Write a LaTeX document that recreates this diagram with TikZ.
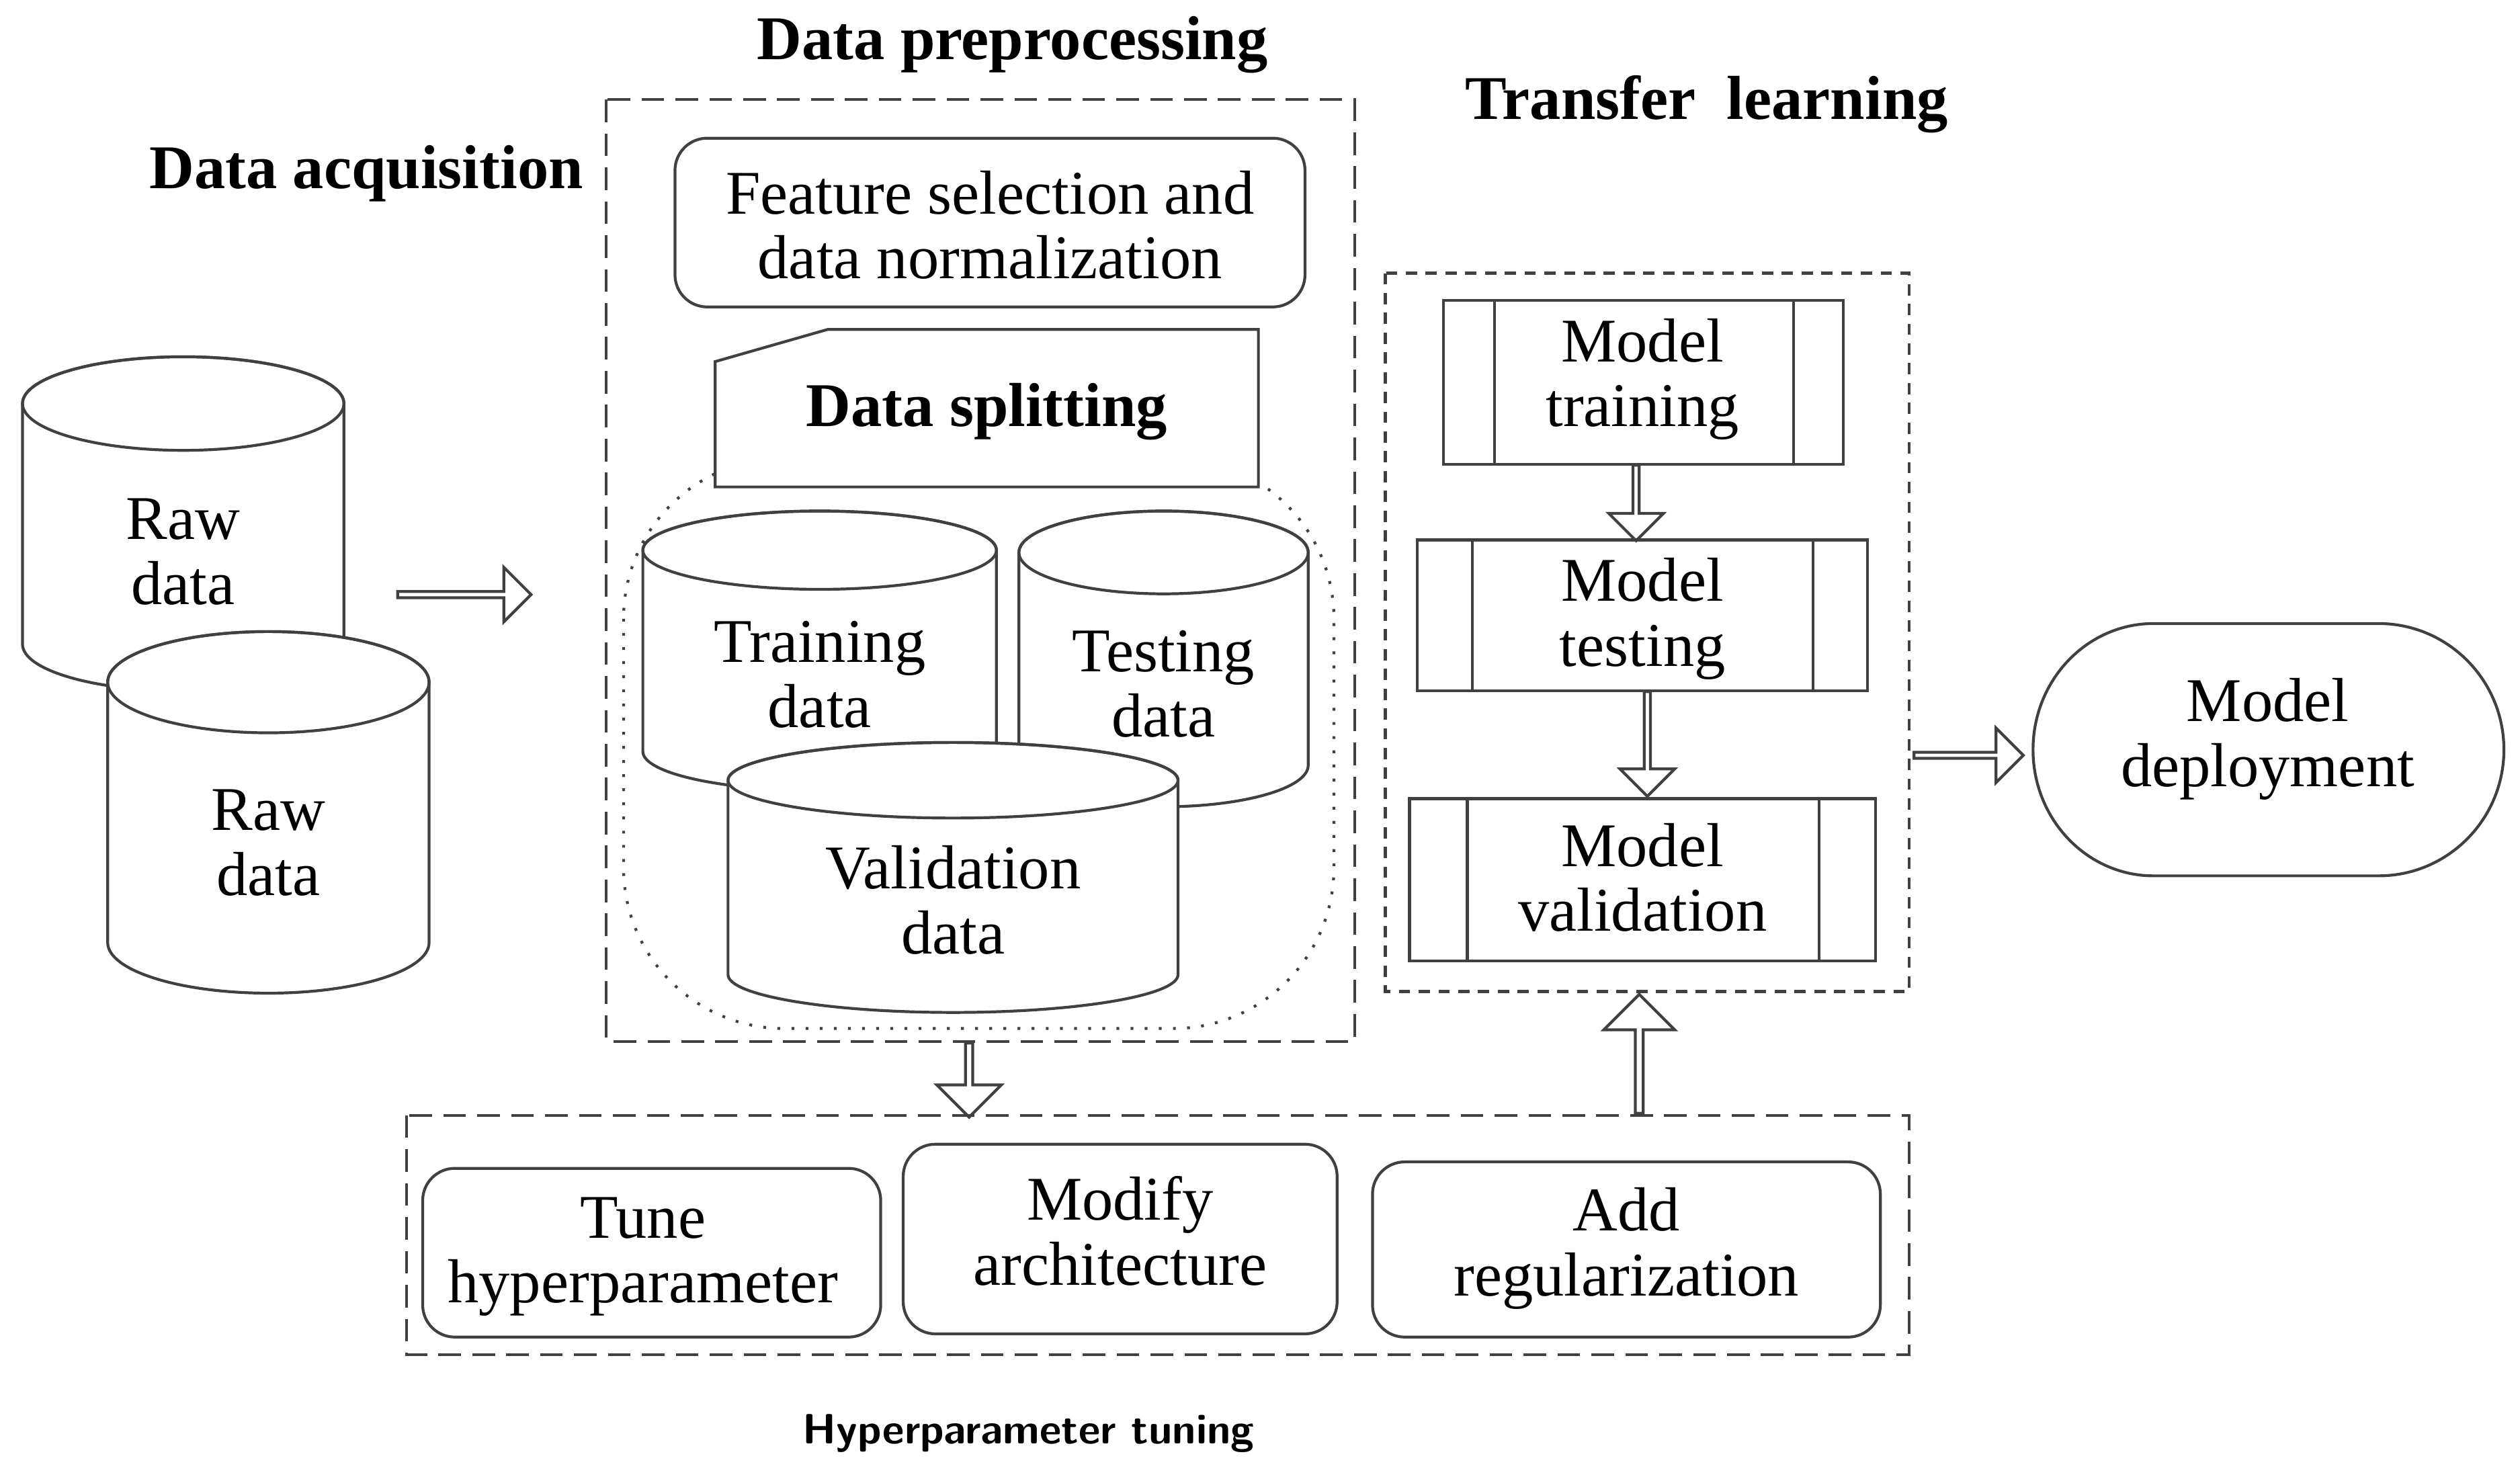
\documentclass[tikz,border=0pt]{standalone}
\usepackage{fontspec}
\setmainfont{Liberation Serif}
\usetikzlibrary{shapes.arrows,shapes.misc}
\newcommand\mycyl[6]{%
\pgfmathsetmacro\cx{(#2+#4)/2}\pgfmathsetmacro\rx{(#4-#2)/2}\pgfmathsetmacro\ry{0.14*(#5-#3)}%
\pgfmathsetmacro\yt{-#3-\ry}\pgfmathsetmacro\yb{-#5+\ry}%
\draw[fill=white] (#2,\yt) -- (#2,\yb) arc[start angle=180,end angle=360,x radius=\rx,y radius=\ry] -- (#4,\yt) arc[start angle=0,end angle=180,x radius=\rx,y radius=\ry] -- cycle;
\draw (\cx,\yt) ellipse[x radius=\rx,y radius=\ry];
\node[lbl] (#1) at (\cx,{(\yt+\yb)/2-\ry*0.6}) {#6};}
\begin{document}
\begin{tikzpicture}[x=0.01cm,y=0.01cm,line width=0.5pt,draw=black!75,
  lbl/.style={align=center,font=\fontsize{11}{11.5}\selectfont,inner sep=0pt},
  ttl/.style={font=\fontsize{11}{13}\selectfont\bfseries,inner sep=0pt},
  rbox/.style={draw,rounded corners=0.2cm,fill=white},
  dbox/.style={draw,dashed,dash pattern=on 4pt off 2pt},
  harrow/.style={single arrow,draw,inner sep=0pt,minimum width=0.34cm,single arrow head extend=0.07cm,single arrow head indent=0pt}]
\useasboundingbox (0,0) rectangle (1568,-919);
% titles
\node[ttl] (t1) at (630,-28) {Data preprocessing};
\node[ttl] (t2) at (1062,-65) {Transfer\ \ learning};
\node[ttl] (t3) at (228,-108) {Data acquisition};
\node[font=\fontsize{7.5}{9}\selectfont\sffamily\bfseries] (t4) at (640,-892) {Hyperparameter tuning};
% raw data
\mycyl{raw1}{14}{222}{214}{430}{Raw\\data}
\mycyl{raw2}{67}{393}{267}{618}{Raw\\data}
\node[harrow,minimum height=0.83cm] (a1) at (288,-370) {};
% preprocessing
\draw[dbox] (377,-62) rectangle (843,-648);
\draw[rbox] (420,-86) rectangle (812,-191);
\node[lbl] (fs) at (616,-140) {Feature selection and\\data normalization};
\draw[dotted,rounded corners=1cm] (388,-285) rectangle (830,-640);
\draw[fill=white] (445,-225) -- (515,-205) -- (783,-205) -- (783,-303) -- (445,-303) -- cycle;
\node[lbl,font=\fontsize{11}{13}\selectfont\bfseries] (ds) at (614,-256) {Data splitting};
\mycyl{trd}{400}{318}{620}{492}{Training\\data}
\mycyl{ted}{634}{318}{814}{502}{Testing\\data}
\mycyl{vad}{453}{462}{733}{630}{Validation\\data}
% transfer learning
\draw[dbox,dash pattern=on 2pt off 1.5pt] (862,-170) rectangle (1188,-617);
\draw (898,-187) rectangle (1147,-289) (930,-187) -- (930,-289) (1116,-187) -- (1116,-289);
\node[lbl] (mt) at (1022,-236) {Model\\training};
\draw (882,-336) rectangle (1162,-430) (916,-336) -- (916,-430) (1128,-336) -- (1128,-430);
\node[lbl] (ms) at (1022,-385) {Model\\testing};
\draw (877,-497) rectangle (1167,-598) (913,-497) -- (913,-598) (1132,-497) -- (1132,-598);
\node[lbl] (mv) at (1022,-546) {Model\\validation};
\node[harrow,minimum height=0.47cm,rotate=-90] (a2) at (1018,-312) {};
\node[harrow,minimum height=0.65cm,rotate=-90] (a3) at (1025,-462) {};
\node[harrow,minimum height=0.68cm] (a4) at (1224,-470) {};
% deployment
\draw (1340,-388) -- (1480,-388) arc[start angle=90,end angle=-90,x radius=78,y radius=78.5] -- (1340,-545) arc[start angle=270,end angle=90,x radius=75,y radius=78.5] -- cycle;
\node[lbl] (md) at (1411,-460) {Model\\deployment};
% hyperparameter
\node[harrow,minimum height=0.46cm,rotate=-90,minimum width=0.4cm] (a5) at (603,-671) {};
\node[harrow,minimum height=0.74cm,rotate=90,minimum width=0.44cm] (a6) at (1020,-657) {};
\draw[dbox] (253,-694) rectangle (1188,-843);
\draw[rbox] (263,-727) rectangle (548,-832);
\node[lbl] (th) at (400,-782) {Tune\\hyperparameter};
\draw[rbox] (562,-712) rectangle (832,-830);
\node[lbl] (ma) at (697,-766) {Modify\\architecture};
\draw[rbox] (854,-723) rectangle (1170,-832);
\node[lbl] (ar) at (1012,-777) {Add\\regularization};
\end{tikzpicture}
\end{document}
